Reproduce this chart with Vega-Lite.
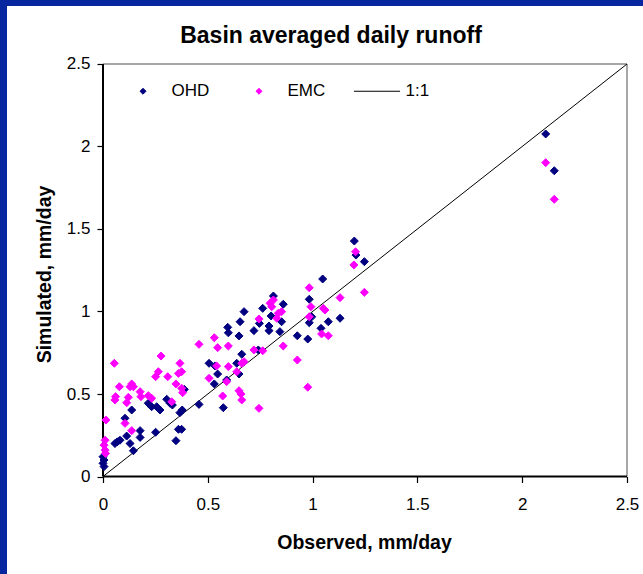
{
  "$schema": "https://vega.github.io/schema/vega-lite/v6.json",
  "width": 636,
  "height": 568,
  "autosize": {"type": "none"},
  "padding": {"left": 7, "top": 6, "right": 0, "bottom": 0},
  "background": "#0627a0",
  "title": {"text": "Basin averaged daily runoff", "font": "Liberation Sans", "fontSize": 23, "fontWeight": "bold", "color": "black", "anchor": "middle", "baseline": "alphabetic", "offset": -60, "dx": 6},
  "config": {
    "view": {"stroke": null, "fill": "white"},
    "axis": {"grid": false, "domain": false, "tickColor": "black", "tickWidth": 1.2, "tickSize": 6, "labelFont": "Liberation Sans", "labelFontSize": 17, "labelColor": "black", "titleFont": "Liberation Sans", "titleFontSize": 19.5, "titleFontWeight": "bold", "titleColor": "black", "labelFlush": false, "labelOverlap": false, "format": "~g"}
  },
  "datasets": {
    "axes": [
      {"x": 0, "y": 0, "x2": 0, "y2": 2.5},
      {"x": 0, "y": 0, "x2": 2.5, "y2": 0}
    ],
    "box": [
      {"x": 0, "y": 2.5, "x2": 2.5, "y2": 2.5},
      {"x": 2.5, "y": 0, "x2": 2.5, "y2": 2.5}
    ],
    "diag": [
      {"x": 0, "y": 0, "x2": 2.5, "y2": 2.5}
    ],
    "pts": [
      {"series": "OHD", "x": 0.005, "y": 0.06},
      {"series": "OHD", "x": 0.0, "y": 0.08},
      {"series": "OHD", "x": 0.005, "y": 0.1},
      {"series": "OHD", "x": 0.0, "y": 0.12},
      {"series": "OHD", "x": 0.057, "y": 0.2},
      {"series": "OHD", "x": 0.068, "y": 0.21},
      {"series": "OHD", "x": 0.081, "y": 0.22},
      {"series": "OHD", "x": 0.105, "y": 0.353},
      {"series": "OHD", "x": 0.113, "y": 0.245},
      {"series": "OHD", "x": 0.129, "y": 0.2},
      {"series": "OHD", "x": 0.145, "y": 0.156},
      {"series": "OHD", "x": 0.137, "y": 0.403},
      {"series": "OHD", "x": 0.177, "y": 0.278},
      {"series": "OHD", "x": 0.177, "y": 0.237},
      {"series": "OHD", "x": 0.216, "y": 0.444},
      {"series": "OHD", "x": 0.232, "y": 0.423},
      {"series": "OHD", "x": 0.256, "y": 0.423},
      {"series": "OHD", "x": 0.272, "y": 0.403},
      {"series": "OHD", "x": 0.251, "y": 0.268},
      {"series": "OHD", "x": 0.304, "y": 0.468},
      {"series": "OHD", "x": 0.32, "y": 0.444},
      {"series": "OHD", "x": 0.331, "y": 0.433},
      {"series": "OHD", "x": 0.348, "y": 0.217},
      {"series": "OHD", "x": 0.36, "y": 0.286},
      {"series": "OHD", "x": 0.375, "y": 0.286},
      {"series": "OHD", "x": 0.367, "y": 0.387},
      {"series": "OHD", "x": 0.378, "y": 0.403},
      {"series": "OHD", "x": 0.388, "y": 0.528},
      {"series": "OHD", "x": 0.458, "y": 0.437},
      {"series": "OHD", "x": 0.506, "y": 0.686},
      {"series": "OHD", "x": 0.547, "y": 0.621},
      {"series": "OHD", "x": 0.534, "y": 0.67},
      {"series": "OHD", "x": 0.531, "y": 0.561},
      {"series": "OHD", "x": 0.574, "y": 0.417},
      {"series": "OHD", "x": 0.595, "y": 0.904},
      {"series": "OHD", "x": 0.598, "y": 0.871},
      {"series": "OHD", "x": 0.59, "y": 0.585},
      {"series": "OHD", "x": 0.654, "y": 0.938},
      {"series": "OHD", "x": 0.649, "y": 0.852},
      {"series": "OHD", "x": 0.673, "y": 0.999},
      {"series": "OHD", "x": 0.662, "y": 0.741},
      {"series": "OHD", "x": 0.649, "y": 0.621},
      {"series": "OHD", "x": 0.638, "y": 0.686},
      {"series": "OHD", "x": 0.72, "y": 0.884},
      {"series": "OHD", "x": 0.746, "y": 0.928},
      {"series": "OHD", "x": 0.741, "y": 0.767},
      {"series": "OHD", "x": 0.762, "y": 1.019},
      {"series": "OHD", "x": 0.792, "y": 0.912},
      {"series": "OHD", "x": 0.792, "y": 0.884},
      {"series": "OHD", "x": 0.802, "y": 0.973},
      {"series": "OHD", "x": 0.813, "y": 1.094},
      {"series": "OHD", "x": 0.86, "y": 1.044},
      {"series": "OHD", "x": 0.852, "y": 0.938},
      {"series": "OHD", "x": 0.844, "y": 0.878},
      {"series": "OHD", "x": 0.927, "y": 0.853},
      {"series": "OHD", "x": 0.977, "y": 0.833},
      {"series": "OHD", "x": 0.984, "y": 0.932},
      {"series": "OHD", "x": 0.996, "y": 0.968},
      {"series": "OHD", "x": 0.984, "y": 1.074},
      {"series": "OHD", "x": 1.04, "y": 0.898},
      {"series": "OHD", "x": 1.075, "y": 0.938},
      {"series": "OHD", "x": 1.048, "y": 1.197},
      {"series": "OHD", "x": 1.131, "y": 0.959},
      {"series": "OHD", "x": 1.199, "y": 1.427},
      {"series": "OHD", "x": 1.207, "y": 1.342},
      {"series": "OHD", "x": 1.247, "y": 1.302},
      {"series": "OHD", "x": 2.112, "y": 2.076},
      {"series": "OHD", "x": 2.153, "y": 1.853},
      {"series": "EMC", "x": 0.01, "y": 0.22},
      {"series": "EMC", "x": 0.005, "y": 0.19},
      {"series": "EMC", "x": 0.01, "y": 0.16},
      {"series": "EMC", "x": 0.012, "y": 0.14},
      {"series": "EMC", "x": 0.014, "y": 0.342},
      {"series": "EMC", "x": 0.054, "y": 0.686},
      {"series": "EMC", "x": 0.057, "y": 0.464},
      {"series": "EMC", "x": 0.06, "y": 0.484},
      {"series": "EMC", "x": 0.078, "y": 0.544},
      {"series": "EMC", "x": 0.105, "y": 0.322},
      {"series": "EMC", "x": 0.113, "y": 0.447},
      {"series": "EMC", "x": 0.121, "y": 0.48},
      {"series": "EMC", "x": 0.129, "y": 0.544},
      {"series": "EMC", "x": 0.137, "y": 0.561},
      {"series": "EMC", "x": 0.145, "y": 0.544},
      {"series": "EMC", "x": 0.137, "y": 0.278},
      {"series": "EMC", "x": 0.177, "y": 0.514},
      {"series": "EMC", "x": 0.181, "y": 0.484},
      {"series": "EMC", "x": 0.216, "y": 0.49},
      {"series": "EMC", "x": 0.232, "y": 0.474},
      {"series": "EMC", "x": 0.251, "y": 0.605},
      {"series": "EMC", "x": 0.264, "y": 0.635},
      {"series": "EMC", "x": 0.277, "y": 0.73},
      {"series": "EMC", "x": 0.309, "y": 0.605},
      {"series": "EMC", "x": 0.328, "y": 0.453},
      {"series": "EMC", "x": 0.348, "y": 0.561},
      {"series": "EMC", "x": 0.36, "y": 0.625},
      {"series": "EMC", "x": 0.375, "y": 0.635},
      {"series": "EMC", "x": 0.367, "y": 0.686},
      {"series": "EMC", "x": 0.375, "y": 0.535},
      {"series": "EMC", "x": 0.38, "y": 0.508},
      {"series": "EMC", "x": 0.458, "y": 0.801},
      {"series": "EMC", "x": 0.506, "y": 0.595},
      {"series": "EMC", "x": 0.531, "y": 0.841},
      {"series": "EMC", "x": 0.542, "y": 0.67},
      {"series": "EMC", "x": 0.547, "y": 0.781},
      {"series": "EMC", "x": 0.571, "y": 0.488},
      {"series": "EMC", "x": 0.59, "y": 0.575},
      {"series": "EMC", "x": 0.598, "y": 0.791},
      {"series": "EMC", "x": 0.598, "y": 0.666},
      {"series": "EMC", "x": 0.638, "y": 0.635},
      {"series": "EMC", "x": 0.649, "y": 0.52},
      {"series": "EMC", "x": 0.658, "y": 0.5},
      {"series": "EMC", "x": 0.662, "y": 0.464},
      {"series": "EMC", "x": 0.662, "y": 0.686},
      {"series": "EMC", "x": 0.673, "y": 0.696},
      {"series": "EMC", "x": 0.72, "y": 0.767},
      {"series": "EMC", "x": 0.744, "y": 0.413},
      {"series": "EMC", "x": 0.744, "y": 0.955},
      {"series": "EMC", "x": 0.762, "y": 0.762},
      {"series": "EMC", "x": 0.797, "y": 1.05},
      {"series": "EMC", "x": 0.805, "y": 1.029},
      {"series": "EMC", "x": 0.813, "y": 1.07},
      {"series": "EMC", "x": 0.829, "y": 0.959},
      {"series": "EMC", "x": 0.836, "y": 0.989},
      {"series": "EMC", "x": 0.852, "y": 0.999},
      {"series": "EMC", "x": 0.86, "y": 0.791},
      {"series": "EMC", "x": 0.927, "y": 0.706},
      {"series": "EMC", "x": 0.977, "y": 0.541},
      {"series": "EMC", "x": 0.984, "y": 0.968},
      {"series": "EMC", "x": 0.992, "y": 1.029},
      {"series": "EMC", "x": 0.984, "y": 1.144},
      {"series": "EMC", "x": 1.043, "y": 0.864},
      {"series": "EMC", "x": 1.075, "y": 0.853},
      {"series": "EMC", "x": 1.051, "y": 1.019},
      {"series": "EMC", "x": 1.059, "y": 1.009},
      {"series": "EMC", "x": 1.131, "y": 1.084},
      {"series": "EMC", "x": 1.205, "y": 1.362},
      {"series": "EMC", "x": 1.197, "y": 1.282},
      {"series": "EMC", "x": 1.247, "y": 1.116},
      {"series": "EMC", "x": 2.112, "y": 1.902},
      {"series": "EMC", "x": 2.153, "y": 1.68}
    ]
  },
  "encoding": {
    "x": {"field": "x", "type": "quantitative", "scale": {"domain": [-0.458, 2.5763], "nice": false, "zero": false},
      "axis": {"values": [0, 0.5, 1, 1.5, 2, 2.5], "offset": -97.5, "labelPadding": 14, "title": "Observed, mm/day", "titleX": 357, "titleY": 71.5, "titleBaseline": "alphabetic", "titleAlign": "center"}},
    "y": {"field": "y", "type": "quantitative", "scale": {"domain": [-0.5909, 2.8515], "nice": false, "zero": false},
      "axis": {"values": [0, 0.5, 1, 1.5, 2, 2.5], "offset": -96, "labelPadding": 7, "title": "Simulated, mm/day", "titleX": -53, "titleY": 268, "titleBaseline": "alphabetic", "titleAngle": -90, "titleAlign": "center"}}
  },
  "layer": [
    {"data": {"name": "box"}, "mark": {"type": "rule", "color": "#8a8a8a", "strokeWidth": 1.5},
     "encoding": {"x2": {"field": "x2"}, "y2": {"field": "y2"}}},
    {"data": {"name": "diag"}, "mark": {"type": "rule", "color": "black", "strokeWidth": 1},
     "encoding": {"x2": {"field": "x2"}, "y2": {"field": "y2"}}},
    {"data": {"name": "axes"}, "mark": {"type": "rule", "color": "black", "strokeWidth": 2},
     "encoding": {"x2": {"field": "x2"}, "y2": {"field": "y2"}}},
    {"data": {"name": "pts"},
     "mark": {"type": "point", "filled": true, "size": 3785, "strokeWidth": 1, "opacity": 1},
     "encoding": {
       "fill": {"field": "series", "type": "nominal", "scale": {"domain": ["OHD", "EMC", "1:1"], "range": ["#000080", "#ff00ff", "black"]},
         "legend": {"title": null, "orient": "none", "legendX": 112.5, "legendY": 61.5, "direction": "horizontal", "symbolSize": 2116, "symbolStrokeWidth": 1, "labelFont": "Liberation Sans", "labelFontSize": 17, "labelColor": "black", "labelOffset": 5, "columnPadding": 26, "padding": 0}},
       "stroke": {"field": "series", "type": "nominal", "scale": {"domain": ["OHD", "EMC", "1:1"], "range": ["#000080", "#ff00ff", "black"]},
         "legend": {"title": null, "orient": "none", "legendX": 112.5, "legendY": 61.5, "direction": "horizontal", "symbolSize": 2116, "symbolStrokeWidth": 1, "labelFont": "Liberation Sans", "labelFontSize": 17, "labelColor": "black", "labelOffset": 5, "columnPadding": 26, "padding": 0}},
       "shape": {"field": "series", "type": "nominal", "scale": {"domain": ["OHD", "EMC", "1:1"], "range": ["M0,-0.13L0.13,0L0,0.13L-0.13,0Z", "M0,-0.13L0.13,0L0,0.13L-0.13,0Z", "M-1,0L1,0"]},
         "legend": {"title": null, "orient": "none", "legendX": 112.5, "legendY": 61.5, "direction": "horizontal", "symbolSize": 2116, "symbolStrokeWidth": 1, "labelFont": "Liberation Sans", "labelFontSize": 17, "labelColor": "black", "labelOffset": 5, "columnPadding": 26, "padding": 0}}
     }}
  ]
}
